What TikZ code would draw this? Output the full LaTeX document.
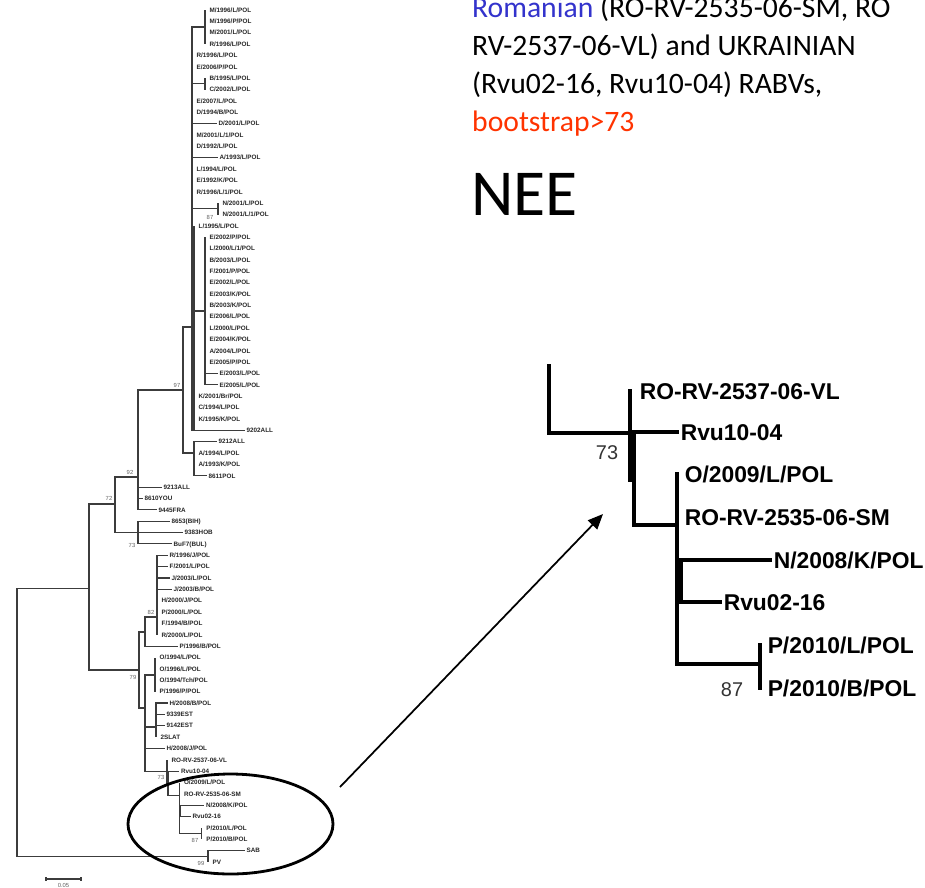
\documentclass[tikz,border=0pt]{standalone}
\usepackage{fontspec}
\setmainfont{Carlito}
\newfontfamily\arialfont{Liberation Sans}
\usepackage{xcolor}
\usetikzlibrary{arrows.meta}
\definecolor{romanblue}{RGB}{51,51,204}
\definecolor{bootred}{RGB}{255,51,0}
\definecolor{treegray}{RGB}{60,60,60}
\tikzset{
	branch/.style={draw=treegray, line width=0.9pt},
	taxon/.style={anchor=west, inner sep=1.2pt, text height=3.9pt, text depth=0pt, text=black!85, font=\arialfont\bfseries\fontsize{5.4}{6}\selectfont},
	boot/.style={inner sep=0pt, text=treegray!80, font=\arialfont\fontsize{5}{6}\selectfont},
	zbranch/.style={draw=black, line width=2.6pt, line cap=rect},
	ztaxon/.style={anchor=west, inner sep=3pt, text height=14pt, text depth=0pt, font=\arialfont\bfseries\fontsize{19.5}{22}\selectfont},
	zboot/.style={inner sep=0pt, text=black!80, font=\arialfont\fontsize{17}{20}\selectfont},
	capline/.style={anchor=base west, inner sep=0pt, font=\fontsize{25.3}{30}\selectfont},
}

\begin{document}
\begin{tikzpicture}[x=0.03cm, y=-0.03cm]
				\path [fill=white] (0,0) rectangle (925,887);
				\useasboundingbox (0,0) rectangle (925,887);

				\coordinate (root) at (17,588.3);
				\coordinate (n89) at (89,588.3);
				\coordinate (n72) at (115,504);
				\coordinate (n92) at (138,477);
				\coordinate (n97) at (183,390);
				\coordinate (ga) at (192,327);
				\coordinate (gb) at (194,430.3);
				\coordinate (gm) at (205,27);
				\coordinate (gbc) at (205,83.9);
				\coordinate (gn) at (218,208.8);
				\coordinate (ge) at (205,311);
				\coordinate (aa) at (194,453);
				\coordinate (bih) at (138,532.6);
				\coordinate (n79) at (139,670);
				\coordinate (cx) at (145,632);
				\coordinate (n82) at (157,617);
				\coordinate (cy) at (145,708);
				\coordinate (co) at (155,675);
				\coordinate (ch) at (156,727);
				\coordinate (ra) at (167,771.1);
				\coordinate (rb) at (168,783);
				\coordinate (rc) at (179.4,795.7);
				\coordinate (rd) at (180.5,811);
				\coordinate (re) at (201.7,833.6);
				\coordinate (out) at (208,856.3);

				\node [taxon] (t01) at (208,10.0) {M/1996/L/POL};
				\node [taxon] (t02) at (208,21.4) {M/1996/P/POL};
				\node [taxon] (t03) at (208,32.7) {M/2001/L/POL};
				\node [taxon] (t04) at (208,44.1) {R/1996/L/POL};
				\node [taxon] (t05) at (195,55.4) {R/1996/L/POL};
				\node [taxon] (t06) at (195,66.8) {E/2006/P/POL};
				\node [taxon] (t07) at (208,78.2) {B/1995/L/POL};
				\node [taxon] (t08) at (208,89.5) {C/2002/L/POL};
				\node [taxon] (t09) at (195,100.9) {E/2007/L/POL};
				\node [taxon] (t10) at (195,112.2) {D/1994/B/POL};
				\node [taxon] (t11) at (217,123.6) {D/2001/L/POL};
				\node [taxon] (t12) at (195,135.0) {M/2001/L/1/POL};
				\node [taxon] (t13) at (195,146.3) {D/1992/L/POL};
				\node [taxon] (t14) at (218,157.7) {A/1993/L/POL};
				\node [taxon] (t15) at (195,169.0) {L/1994/L/POL};
				\node [taxon] (t16) at (195,180.4) {E/1992/K/POL};
				\node [taxon] (t17) at (195,191.8) {R/1996/L/1/POL};
				\node [taxon] (t18) at (221,203.1) {N/2001/L/POL};
				\node [taxon] (t19) at (221,214.5) {N/2001/L/1/POL};
				\node [taxon] (t20) at (197,225.8) {L/1995/L/POL};
				\node [taxon] (t21) at (208,237.2) {E/2002/P/POL};
				\node [taxon] (t22) at (208,248.6) {L/2000/L/1/POL};
				\node [taxon] (t23) at (208,259.9) {B/2003/L/POL};
				\node [taxon] (t24) at (208,271.3) {F/2001/P/POL};
				\node [taxon] (t25) at (208,282.6) {E/2002/L/POL};
				\node [taxon] (t26) at (208,294.0) {E/2003/K/POL};
				\node [taxon] (t27) at (208,305.4) {B/2003/K/POL};
				\node [taxon] (t28) at (208,316.7) {E/2006/L/POL};
				\node [taxon] (t29) at (208,328.1) {L/2000/L/POL};
				\node [taxon] (t30) at (208,339.4) {E/2004/K/POL};
				\node [taxon] (t31) at (208,350.8) {A/2004/L/POL};
				\node [taxon] (t32) at (208,362.2) {E/2005/P/POL};
				\node [taxon] (t33) at (218,373.5) {E/2003/L/POL};
				\node [taxon] (t34) at (218,384.9) {E/2005/L/POL};
				\node [taxon] (t35) at (197,396.2) {K/2001/Br/POL};
				\node [taxon] (t36) at (197,407.6) {C/1994/L/POL};
				\node [taxon] (t37) at (197,419.0) {K/1995/K/POL};
				\node [taxon] (t38) at (245,430.3) {9202ALL};
				\node [taxon] (t39) at (217,441.7) {9212ALL};
				\node [taxon] (t40) at (197,453.0) {A/1994/L/POL};
				\node [taxon] (t41) at (197,464.4) {A/1993/K/POL};
				\node [taxon] (t42) at (207,475.8) {8611POL};
				\node [taxon] (t43) at (162,487.1) {9213ALL};
				\node [taxon] (t44) at (143,498.5) {8610YOU};
				\node [taxon] (t45) at (157,509.8) {9445FRA};
				\node [taxon] (t46) at (170,521.2) {8653(BIH)};
				\node [taxon] (t47) at (183,532.6) {9383HOB};
				\node [taxon] (t48) at (172,543.9) {BuF7(BUL)};
				\node [taxon] (t49) at (168,555.3) {R/1996/J/POL};
				\node [taxon] (t50) at (168,566.6) {F/2001/L/POL};
				\node [taxon] (t51) at (170,578.0) {J/2003/L/POL};
				\node [taxon] (t52) at (172,589.4) {J/2003/B/POL};
				\node [taxon] (t53) at (160,600.7) {H/2000/J/POL};
				\node [taxon] (t54) at (160,612.1) {P/2000/L/POL};
				\node [taxon] (t55) at (160,623.4) {F/1994/B/POL};
				\node [taxon] (t56) at (160,634.8) {R/2000/L/POL};
				\node [taxon] (t57) at (178,646.2) {P/1996/B/POL};
				\node [taxon] (t58) at (158,657.5) {O/1994/L/POL};
				\node [taxon] (t59) at (158,668.9) {O/1996/L/POL};
				\node [taxon] (t60) at (158,680.2) {O/1994/Tch/POL};
				\node [taxon] (t61) at (158,691.6) {P/1996/P/POL};
				\node [taxon] (t62) at (168,703.0) {H/2008/B/POL};
				\node [taxon] (t63) at (165,714.3) {9339EST};
				\node [taxon] (t64) at (165,725.7) {9142EST};
				\node [taxon] (t65) at (159,737.0) {2SLAT};
				\node [taxon] (t66) at (165,748.4) {H/2008/J/POL};
				\node [taxon] (t67) at (170,759.8) {RO-RV-2537-06-VL};
				\node [taxon] (t68) at (179.4,771.1) {Rvu10-04};
				\node [taxon] (t69) at (182.4,782.5) {O/2009/L/POL};
				\node [taxon] (t70) at (182.4,793.8) {RO-RV-2535-06-SM};
				\node [taxon] (t71) at (204.4,805.2) {N/2008/K/POL};
				\node [taxon] (t72) at (191,816.6) {Rvu02-16};
				\node [taxon] (t73) at (204.7,827.9) {P/2010/L/POL};
				\node [taxon] (t74) at (204.7,839.3) {P/2010/B/POL};
				\node [taxon] (t75) at (245,850.6) {SAB};
				\node [taxon] (t76) at (211,862.0) {PV};

				\draw [branch] (root) |- (n89);
				\draw [branch] (root) |- (out);
				\draw [branch] (n89) |- (n72);
				\draw [branch] (n89) |- (n79);
				\draw [branch] (n72) |- (n92);
				\draw [branch] (n72) |- (bih);
				\draw [branch] (n92) |- (n97);
				\draw [branch] (n97) |- (ga);
				\draw [branch] (n97) |- (aa);
				\draw [branch] (ga) |- (gm);
				\draw [branch] (ga) |- (gbc);
				\draw [branch] (ga) |- (gn);
				\draw [branch] (ga) |- (gb);
				\draw [branch] (gb) |- (ge);
				\draw [branch] (n79) |- (cx);
				\draw [branch] (n79) |- (cy);
				\draw [branch] (cx) |- (n82);
				\draw [branch] (cy) |- (co);
				\draw [branch] (cy) |- (ch);
				\draw [branch] (cy) |- (ra);
				\draw [branch] (ra) |- (rb);
				\draw [branch] (rb) |- (rc);
				\draw [branch] (rc) |- (rd);
				\draw [branch] (rc) |- (re);

				\foreach \t in {t01,t02,t03,t04} \draw [branch] (gm) -- (gm |- \t.west);
				\foreach \t in {t07,t08} \draw [branch] (gbc) -- (gbc |- \t.west);
				\foreach \t in {t18,t19} \draw [branch] (gn) -- (gn |- \t.west);
				\foreach \t in {t05,t06,t09,t10,t12,t13,t15,t16,t17} \draw [branch] (ga) -- (ga |- \t.west);
				\foreach \t in {t11,t14} \draw [branch] (ga) |- (\t.west);
				\foreach \t in {t20,t35,t36,t37} \draw [branch] (gb) -- (gb |- \t.west);
				\draw [branch] (gb) |- (t38.west);
				\foreach \t in {t21,t22,t23,t24,t25,t26,t27,t28,t29,t30,t31,t32} \draw [branch] (ge) -- (ge |- \t.west);
				\foreach \t in {t33,t34} \draw [branch] (ge) |- (\t.west);
				\foreach \t in {t40,t41} \draw [branch] (aa) -- (aa |- \t.west);
				\foreach \t in {t39,t42} \draw [branch] (aa) |- (\t.west);
				\foreach \t in {t43,t44,t45} \draw [branch] (n92) |- (\t.west);
				\foreach \t in {t46,t47,t48} \draw [branch] (bih) |- (\t.west);
				\foreach \t in {t49,t50,t51,t52} \draw [branch] (n82) |- (\t.west);
				\foreach \t in {t53,t54,t55,t56} \draw [branch] (n82) -- (n82 |- \t.west);
				\draw [branch] (cx) |- (t57.west);
				\foreach \t in {t58,t59,t60,t61} \draw [branch] (co) -- (co |- \t.west);
				\foreach \t in {t62,t63,t64} \draw [branch] (ch) |- (\t.west);
				\draw [branch] (ch) -- (ch |- t65.west);
				\draw [branch] (cy) |- (t66.west);
				\draw [branch] (ra) -- (ra |- t67.west);
				\draw [branch] (rb) |- (t68.west);
				\foreach \t in {t69,t70} \draw [branch] (rc) -- (rc |- \t.west);
				\foreach \t in {t71,t72} \draw [branch] (rd) |- (\t.west);
				\foreach \t in {t73,t74} \draw [branch] (re) -- (re |- \t.west);
				\draw [branch] (out) |- (t75.west);
				\draw [branch] (out) -- (out |- t76.west);

				\node [boot] (b97) at (177,385) {97};
				\node [boot] (b87a) at (210,217) {87};
				\node [boot] (b92) at (130,472) {92};
				\node [boot] (b72) at (109,498) {72};
				\node [boot] (b73a) at (132,545) {73};
				\node [boot] (b82) at (151,612) {82};
				\node [boot] (b79) at (133,677) {79};
				\node [boot] (b73b) at (161,777) {73};
				\node [boot] (b87b) at (195,840) {87};
				\node [boot] (b99) at (201,863) {99};

				\draw [branch] (46,879) -- (81,879);
				\draw [branch] (46,877) -- (46,881);
				\draw [branch] (81,877) -- (81,881);
				\node [boot, anchor=north] (scale) at (63.5,883) {0.05};

				\draw [black, line width=2.4pt] (230.5,824) ellipse [x radius=3.075cm, y radius=1.5cm];

				\coordinate (ztop) at (549,366);
				\coordinate (za) at (630,433);
				\coordinate (zb) at (634,480);
				\coordinate (zc) at (677,525);
				\coordinate (zd) at (681,581);
				\coordinate (ze) at (760,664);
				\node [ztaxon] (z67) at (636,391) {RO-RV-2537-06-VL};
				\node [ztaxon] (z68) at (677,432) {Rvu10-04};
				\node [ztaxon] (z69) at (681,474) {O/2009/L/POL};
				\node [ztaxon] (z70) at (681,517) {RO-RV-2535-06-SM};
				\node [ztaxon] (z71) at (770,560) {N/2008/K/POL};
				\node [ztaxon] (z72) at (720,602) {Rvu02-16};
				\node [ztaxon] (z73) at (764,645) {P/2010/L/POL};
				\node [ztaxon] (z74) at (764,688) {P/2010/B/POL};
				\draw [zbranch] (ztop) |- (za);
				\draw [zbranch] (za) -- (za |- z67.west);
				\draw [zbranch] (za) |- (zb);
				\draw [zbranch] (zb) |- (z68.west);
				\draw [zbranch] (zb) |- (zc);
				\draw [zbranch] (zc) -- (zc |- z69.west);
				\draw [zbranch] (zc) |- (zd);
				\draw [zbranch] (zd) |- (z71.west);
				\draw [zbranch] (zd) |- (z72.west);
				\draw [zbranch] (zc) |- (ze);
				\draw [zbranch] (ze) -- (ze |- z73.west);
				\draw [zbranch] (ze) -- (ze |- z74.west);
				\node [zboot] (z73b) at (607,453) {73};
				\node [zboot] (z87b) at (732,690) {87};

				\coordinate (arrowfrom) at (340,787);
				\coordinate (arrowto) at (603,514);
				\draw [black, line width=1.5pt, -{Triangle[length=13pt, width=11pt]}] (arrowfrom) -- (arrowto);

				\node [capline] (cap1) at (472,17) {\textcolor{romanblue}{Romanian} (RO-RV-2535-06-SM, RO};
				\node [capline] (cap2) at (472,55) {RV-2537-06-VL) and UKRAINIAN};
				\node [capline] (cap3) at (472,93) {(Rvu02-16, Rvu10-04) RABVs,};
				\node [capline] (cap4) at (472,131) {\textcolor{bootred}{bootstrap>73}};
				\node [capline, font=\fontsize{56}{62}\selectfont] (nee) at (471,215) {NEE};
			\end{tikzpicture}
\end{document}
